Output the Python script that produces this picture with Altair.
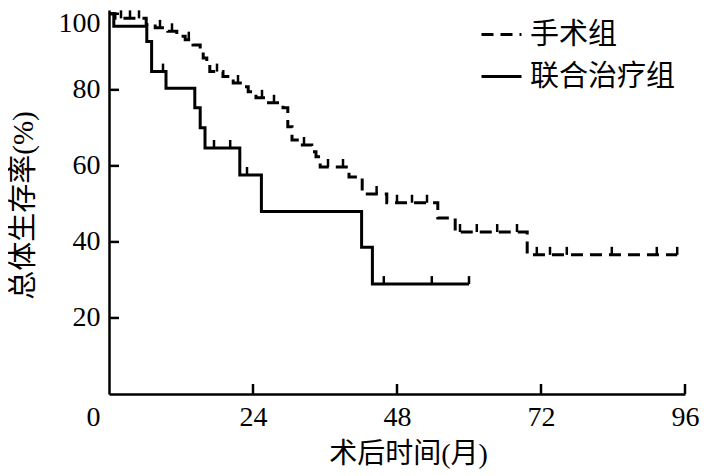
import altair as alt
import pandas as pd

groups = ["手术组", "联合治疗组"]

# 手术组 (surgery) Kaplan-Meier steps: time (months) and survival (%)
surg_time = [0, 1.0, 6.2, 7.7, 9.8, 11.3, 12.7, 14.0, 15.2, 15.7, 16.3, 16.8, 19.0, 20.7, 22.2,
             23.2, 24.5, 26.3, 29.0, 29.8, 30.5, 31.8, 33.8, 34.5, 35.2, 40.0, 42.2, 46.3, 54.8,
             57.7, 69.7, 94.7]
surg_surv = [100, 98.8, 97.2, 96.3, 95.4, 94.1, 93.2, 91.8, 90.5, 88.4, 86.6, 84.8, 83.5, 81.8, 80.8,
             79.5, 77.9, 76.6, 75.3, 70.3, 66.8, 65.5, 63.7, 62.4, 59.7, 57.1, 52.6, 50.3, 46.3,
             42.6, 36.6, 36.6]
surg_cens = [2.0, 3.5, 5.0, 8.5, 10.5, 13.3, 18.0, 21.5, 25.5, 27.5, 32.5, 36.5, 39.0, 44.6,
             48.0, 50.5, 53.0, 58.5, 61.3, 64.7, 68.0, 71.3, 73.5, 76.3, 83.8, 91.3, 94.7]

# 联合治疗组 (combined therapy)
comb_time = [0, 0.8, 6.3, 7.1, 9.5, 14.3, 15.2, 16.0, 21.8, 25.4, 42.1, 43.9, 60.0]
comb_surv = [100, 96.7, 92.7, 84.8, 80.4, 75.3, 70.0, 64.7, 57.6, 48.0, 38.6, 28.9, 28.9]
comb_cens = [9.0, 17.5, 20.2, 23.0, 45.8, 53.8, 60.0]

x_ticks = [0, 24, 48, 72, 96]
y_ticks = [20, 40, 60, 80, 100]


def step_at(times, survs, t):
    s = survs[0]
    for tt, ss in zip(times, survs):
        if tt <= t:
            s = ss
    return s


line_rows = []
cens_rows = []
for g, ts, ss, cs in [(groups[0], surg_time, surg_surv, surg_cens),
                      (groups[1], comb_time, comb_surv, comb_cens)]:
    for t, s in zip(ts, ss):
        line_rows.append({"group": g, "t": t, "s": s})
    for c in cs:
        cens_rows.append({"group": g, "t": c, "s": step_at(ts, ss, c)})

line_df = pd.DataFrame(line_rows)
cens_df = pd.DataFrame(cens_rows)
xtick_df = pd.DataFrame({"t": x_ticks[1:]})
ytick_df = pd.DataFrame({"s": y_ticks})

NUM_FONT = "Liberation Serif"
CJK_FONT = "Liberation Serif, Noto Sans CJK SC"

x_scale = alt.Scale(domain=[0, 96], nice=False, zero=False)
y_scale = alt.Scale(domain=[0, 101], nice=False)

x_axis = alt.Axis(
    values=x_ticks, title="术后时间(月)", ticks=False, tickSize=0, grid=False,
    labelFont=NUM_FONT, labelFontSize=28, labelColor="black", labelPadding=9,
    labelFlush=False,
    labelOffset={"condition": {"test": "datum.value === 0", "value": -16}, "value": 0},
    domainColor="black", domainWidth=2.5,
    titleFont=CJK_FONT, titleFontSize=28, titleFontWeight="normal", titleColor="black",
    titleX=299, titleY=60, titleBaseline="middle", titleAlign="center",
)
y_axis = alt.Axis(
    values=y_ticks, title="总体生存率(%)", ticks=False, tickSize=0, grid=False,
    labelFont=NUM_FONT, labelFontSize=28, labelColor="black", labelPadding=9,
    labelFlush=False,
    labelOffset={"condition": {"test": "datum.value === 100", "value": 10}, "value": 0},
    domainColor="black", domainWidth=2.5,
    titleFont=CJK_FONT, titleFontSize=29, titleFontWeight="normal", titleColor="black",
    titleX=-86, titleY=195, titleBaseline="middle", titleAlign="center", titleAngle=270,
)

lines = alt.Chart(line_df).mark_line(interpolate="step-after", strokeWidth=3, color="black").encode(
    x=alt.X("t:Q", scale=x_scale, axis=x_axis),
    y=alt.Y("s:Q", scale=y_scale, axis=y_axis),
    strokeDash=alt.StrokeDash(
        "group:N",
        scale=alt.Scale(domain=groups, range=[[12, 7], [1, 0]]),
        legend=alt.Legend(
            title=None, orient="none", legendX=371, legendY=3,
            symbolType="stroke", symbolSize=1600, symbolStrokeWidth=3,
            symbolStrokeColor="black", labelFont="Noto Sans CJK SC", labelFontSize=29,
            labelColor="black", labelOffset=7, rowPadding=5, padding=0,
        ),
    ),
    order="t:Q",
)

censors = alt.Chart(cens_df).mark_tick(
    orient="vertical", size=8, thickness=2.5, color="black", opacity=1, yOffset=-4
).encode(
    x=alt.X("t:Q", scale=x_scale),
    y=alt.Y("s:Q", scale=y_scale),
)

xticks = alt.Chart(xtick_df).mark_tick(
    orient="vertical", size=10, thickness=2.5, color="black", opacity=1, yOffset=-5
).encode(
    x=alt.X("t:Q", scale=x_scale),
    y=alt.datum(0, scale=y_scale),
)

yticks = alt.Chart(ytick_df).mark_tick(
    orient="horizontal", size=10, thickness=2.5, color="black", opacity=1, xOffset=5
).encode(
    x=alt.datum(0, scale=x_scale),
    y=alt.Y("s:Q", scale=y_scale),
)

chart = alt.layer(lines, censors, xticks, yticks).properties(
    width=576, height=384,
    autosize=alt.AutoSizeParams(type="none"),
    padding={"left": 101, "top": 2, "right": 16, "bottom": 76},
    background="white",
).configure_view(stroke=None)

chart.save("out.html", embed_options={"renderer": "svg", "actions": False})
